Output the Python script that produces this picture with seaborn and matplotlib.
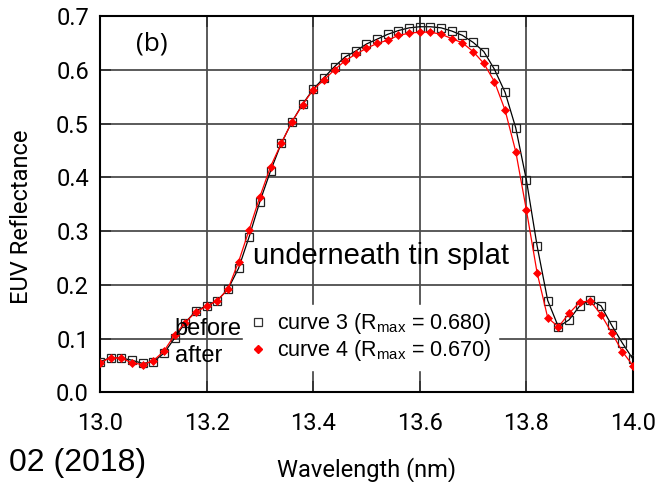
import matplotlib
matplotlib.use("Agg")
import matplotlib.pyplot as plt
from matplotlib.lines import Line2D
import seaborn as sns

# ---------------- data ----------------
wavelength = [13.00, 13.02, 13.04, 13.06, 13.08, 13.10, 13.12, 13.14, 13.16, 13.18,
              13.20, 13.22, 13.24, 13.26, 13.28, 13.30, 13.32, 13.34, 13.36, 13.38,
              13.40, 13.42, 13.44, 13.46, 13.48, 13.50, 13.52, 13.54, 13.56, 13.58,
              13.60, 13.62, 13.64, 13.66, 13.68, 13.70, 13.72, 13.74, 13.76, 13.78,
              13.80, 13.82, 13.84, 13.86, 13.88, 13.90, 13.92, 13.94, 13.96, 13.98,
              14.00]

curve3 = [0.057, 0.065, 0.064, 0.060, 0.054, 0.057, 0.073, 0.101, 0.130, 0.152,
          0.161, 0.171, 0.192, 0.231, 0.290, 0.355, 0.412, 0.463, 0.503, 0.536,
          0.564, 0.585, 0.606, 0.624, 0.635, 0.648, 0.657, 0.666, 0.673, 0.678,
          0.680, 0.680, 0.678, 0.672, 0.664, 0.651, 0.634, 0.601, 0.558, 0.492,
          0.395, 0.273, 0.171, 0.122, 0.135, 0.161, 0.172, 0.161, 0.125, 0.092,
          0.062]

curve4 = [0.055, 0.065, 0.064, 0.055, 0.052, 0.059, 0.077, 0.107, 0.130, 0.150,
          0.160, 0.171, 0.192, 0.243, 0.303, 0.364, 0.420, 0.463, 0.503, 0.535,
          0.563, 0.581, 0.600, 0.617, 0.629, 0.640, 0.649, 0.655, 0.664, 0.668,
          0.670, 0.670, 0.666, 0.658, 0.650, 0.634, 0.612, 0.578, 0.525, 0.448,
          0.339, 0.223, 0.139, 0.122, 0.147, 0.168, 0.170, 0.145, 0.111, 0.076,
          0.050]

series_labels = ["curve 3 (R$_{\\mathrm{max}}$ = 0.680)",
                 "curve 4 (R$_{\\mathrm{max}}$ = 0.670)"]
xticks = [13.0, 13.2, 13.4, 13.6, 13.8, 14.0]
yticks = [0.0, 0.1, 0.2, 0.3, 0.4, 0.5, 0.6, 0.7]

# ---------------- style ----------------
sns.set_style("white")
plt.rcParams["font.family"] = ["Roboto", "DejaVu Sans"]
plt.rcParams["mathtext.fontset"] = "custom"
plt.rcParams["mathtext.rm"] = "Liberation Sans"
plt.rcParams["mathtext.it"] = "Liberation Sans:italic"
for k in ["text.color", "axes.labelcolor", "xtick.color", "ytick.color"]:
    plt.rcParams[k] = "black"

fig = plt.figure(figsize=(6.6, 4.82), dpi=100)
ax = fig.add_axes([0.1515, 0.1857, 0.8076, 0.7811])

sns.lineplot(x=wavelength, y=curve3, ax=ax, color="black", lw=0.9,
             marker="s", markersize=6, markerfacecolor="none",
             markeredgecolor="#222222", markeredgewidth=0.9, zorder=3)
sns.lineplot(x=wavelength, y=curve4, ax=ax, color="red", lw=0.9,
             marker="D", markersize=4.5, markerfacecolor="red",
             markeredgecolor="red", markeredgewidth=0.5, zorder=4)

ax.set_xlim(13.0, 14.0)
ax.set_ylim(0.0, 0.7)
ax.set_xticks(xticks)
ax.set_xticklabels([f"{v:.1f}" for v in xticks])
ax.set_yticks(yticks)
ax.set_yticklabels([f"{v:.1f}" for v in yticks])

ax.grid(True, color="#4d4d4d", lw=1.3)
ax.set_axisbelow(True)
for s in ax.spines.values():
    s.set_color("black")
    s.set_linewidth(1.5)

ax.tick_params(axis="both", direction="in", length=8, width=1.3, color="#333333",
               labelcolor="black", labelsize=17,
               left=True, right=True, bottom=True, top=True)
ax.tick_params(axis="x", pad=14)
ax.tick_params(axis="y", pad=8)

ax.set_xlabel("Wavelength (nm)", fontsize=17, color="black")
ax.set_ylabel("EUV Reflectance", fontsize=17, color="black")
ax.xaxis.set_label_coords(0.5, -0.172)
ax.yaxis.set_label_coords(-0.126, 0.466)

# annotations
ax.text(13.0976, 0.648, "(b)", fontsize=19, family="Open Sans",
        ha="center", va="center", color="black")
ax.text(13.287, 0.254, "underneath tin splat", fontsize=21,
        family="Liberation Sans", ha="left", va="center", zorder=6, color="black")
ax.text(13.2645, 0.118, "before", fontsize=17, family="Liberation Sans",
        ha="right", va="center", zorder=6, color="black")
ax.text(13.1407, 0.068, "after", fontsize=17, family="Liberation Sans",
        ha="left", va="center", zorder=6, color="black")

handles = [
    Line2D([0], [0], marker="s", ls="none", mfc="none", mec="#333333",
           mew=0.9, ms=6),
    Line2D([0], [0], marker="D", ls="none", mfc="red", mec="red", ms=4.5),
]
leg = ax.legend(handles, series_labels, loc="center left",
                bbox_to_anchor=(0.268, 0.147), frameon=True, fancybox=False,
                facecolor="white", edgecolor="white", framealpha=1,
                prop={"family": "Liberation Sans", "size": 15.5},
                handlelength=0.8, handletextpad=0.5, borderpad=0.3,
                labelspacing=0.1, borderaxespad=0)
for t in leg.get_texts():
    t.set_color("black")

fig.text(146 / 660, 1 - 463 / 482, "02 (2018)", fontsize=23,
         family="Liberation Sans", ha="right", va="center", color="black")

fig.savefig("out.png", dpi=100)
